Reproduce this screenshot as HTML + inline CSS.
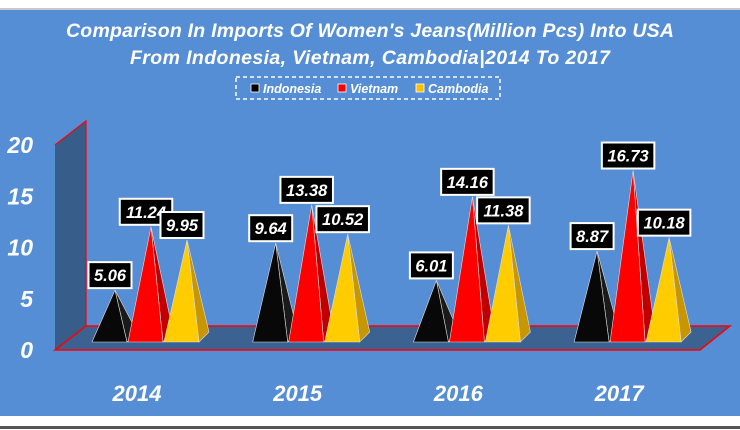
<!DOCTYPE html>
<html><head><meta charset="utf-8"><style>
html,body{margin:0;padding:0;background:#fff;}
svg{display:block;font-family:"Liberation Sans",sans-serif;}
</style></head><body>
<svg width="740" height="430" viewBox="0 0 740 430" id="chart">
<rect x="0" y="0" width="740" height="430" fill="#ffffff"/>
<rect x="0" y="8" width="740" height="2" fill="#c8c8c8"/>
<rect x="0" y="10" width="740" height="406" fill="#558ed5"/>
<rect x="0" y="426" width="740" height="3" fill="#555"/>
<text x="370" y="37" text-anchor="middle" fill="#fff" font-size="19.5" font-weight="bold" font-style="italic" textLength="608">Comparison In Imports Of  Women's Jeans(Million Pcs) Into USA</text>
<text x="370" y="64" text-anchor="middle" fill="#fff" font-size="19.5" font-weight="bold" font-style="italic" textLength="480">From Indonesia, Vietnam, Cambodia|2014 To 2017</text>
<g>
<rect x="236" y="77" width="264" height="22" fill="none" stroke="#fff" stroke-width="1.5" stroke-dasharray="4,3"/>
<g><rect x="251" y="84" width="8" height="8" fill="#000" stroke="#fff" stroke-width="0.8"/><text x="263" y="93" fill="#fff" font-size="12.5" font-style="italic" font-weight="bold">Indonesia</text></g>
<g><rect x="338" y="84" width="8" height="8" fill="#f00" stroke="#fff" stroke-width="0.8"/><text x="350" y="93" fill="#fff" font-size="12.5" font-style="italic" font-weight="bold">Vietnam</text></g>
<g><rect x="416" y="84" width="8" height="8" fill="#ffc000" stroke="#fff" stroke-width="0.8"/><text x="428" y="93" fill="#fff" font-size="12.5" font-style="italic" font-weight="bold">Cambodia</text></g>
</g>
<g id="plot"></g>
</svg>
<script>
const categories = ["2014","2015","2016","2017"];
const indonesia = [5.06, 9.64, 6.01, 8.87];
const vietnam = [11.24, 13.38, 14.16, 16.73];
const cambodia = [9.95, 10.52, 11.38, 10.18];
const yTicks = [0, 5, 10, 15, 20];

const NS = "http://www.w3.org/2000/svg";
const plot = document.getElementById("plot");
const wallFrontX = 55, wallBackX = 86, floorFrontY = 350, floorBackY = 326;
const perUnit = 10.25;
function yFront(v){ return floorFrontY - v*perUnit; }
function yBack(v){ return floorBackY - v*perUnit; }
function yPyr(v){ return 342 - v*perUnit; }
function xCat(i){ return 151 + i*160.7; }
function mk(tag, attrs){ const e=document.createElementNS(NS,tag); for(const k in attrs) e.setAttribute(k,attrs[k]); plot.appendChild(e); return e; }

let w = mk("polygon",{points:`${wallFrontX},${yFront(20)} ${wallBackX},${yBack(20)} ${wallBackX},${floorBackY} ${wallFrontX},${floorFrontY}`,fill:"#375d8a"});


let wl = mk("polyline",{points:`${wallFrontX},${yFront(20)} ${wallBackX},${yBack(20)} ${wallBackX},${floorBackY}`,fill:"none",stroke:"#f00","stroke-width":1.2});


let fl = mk("polygon",{points:`${wallFrontX},${floorFrontY} ${wallBackX},${floorBackY} 730,${floorBackY} 700,${floorFrontY}`,fill:"#3b6291",stroke:"#f00","stroke-width":1.5});


yTicks.forEach(t=>{
  const tx = mk("text",{x:33,y:yFront(t)+8,"text-anchor":"end",fill:"#fff","font-size":23,"font-weight":"bold","font-style":"italic"});
  tx.textContent = t;
  
  
});
const series = [
  {vals:indonesia, front:"#080808", side:"#1a1a1a", off:-36, name:"indonesia"},
  {vals:vietnam, front:"#ff0000", side:"#c00000", off:0, name:"vietnam"},
  {vals:cambodia, front:"#ffcc00", side:"#c89600", off:36, name:"cambodia"}
];
categories.forEach((c,i)=>{
  series.forEach(s=>{
    const v = s.vals[i];
    const ax = xCat(i)+s.off, ay = yPyr(v);
    const bl = ax-23, br = ax+12, by = 342;
    const side = mk("polygon",{points:`${ax},${ay} ${br},${by} ${ax+22},${by-10}`,fill:s.side,stroke:"#ddd","stroke-width":0.6});
    
    
    const f = mk("polygon",{points:`${ax},${ay} ${bl},${by} ${br},${by}`,fill:s.front,stroke:"#ddd","stroke-width":0.6});
    
    
  });
  series.forEach(s=>{
    const v = s.vals[i];
    const ax = xCat(i)+s.off-5, ay = yPyr(v);
    const label = v.toFixed(2);
    const lw = label.length*9.5+5;
    const r = mk("rect",{x:ax-lw/2,y:ay-28,width:lw,height:26,fill:"#000",stroke:"#fff","stroke-width":2});
    
    
    const t = mk("text",{x:ax,y:ay-9,"text-anchor":"middle",fill:"#fff","font-size":16.5,"font-weight":"bold","font-style":"italic"});
    t.textContent = label;
    
    
  });
  const ct = mk("text",{x:xCat(i)-14,y:401,"text-anchor":"middle",fill:"#fff","font-size":22,"font-weight":"bold","font-style":"italic"});
  ct.textContent = c;
  
  
});
</script>
</body></html>
